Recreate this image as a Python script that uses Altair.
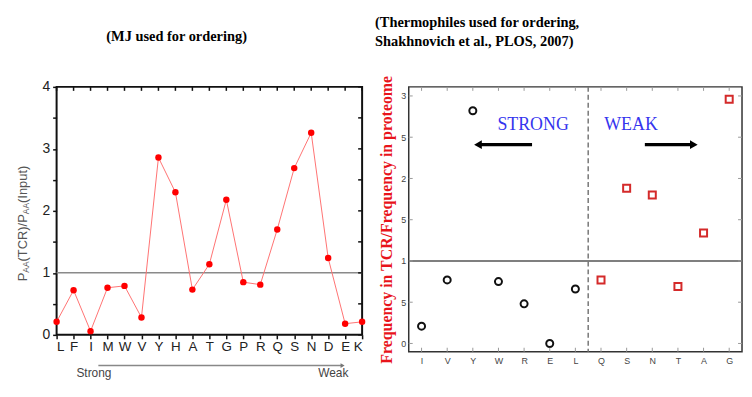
import altair as alt
import pandas as pd

# ---------------- data ----------------
mj_order = ["L", "F", "I", "M", "W", "V", "Y", "H", "A", "T", "G", "P", "R", "Q", "S", "N", "D", "E", "K"]
mj_ratio = [0.21, 0.72, 0.06, 0.76, 0.79, 0.28, 2.86, 2.30, 0.73, 1.14, 2.18, 0.85, 0.81, 1.70, 2.69, 3.26, 1.24, 0.18, 0.21]
left_y_ticks = [0, 0.5, 1, 1.5, 2, 2.5, 3, 3.5, 4]

thermo_order = ["I", "V", "Y", "W", "R", "E", "L", "Q", "S", "N", "T", "A", "G"]
thermo_ratio = [0.21, 0.77, 2.82, 0.75, 0.48, 0.00, 0.66, 0.77, 1.88, 1.80, 0.69, 1.34, 2.96]
thermo_group = ["strong"] * 7 + ["weak"] * 6
right_y_ticks = [0, 0.5, 1, 1.5, 2, 2.5, 3]
right_y_labels = ["0", "5", "1", "5", "2", "5", "3"]

left_title = ["", "(MJ used for ordering)"]
right_title = ["(Thermophiles used for ordering,", "Shakhnovich et al., PLOS, 2007)"]
right_ytitle = "Frequency in TCR/Frequency in proteome"

LW, LH = 308, 250
RW, RH = 336, 267


def js_list(items):
    return "[" + ",".join("'" + str(s) + "'" for s in items) + "]"


one = pd.DataFrame({"a": [0]})

# ---------------- left panel ----------------
ldf = pd.DataFrame({"idx": list(range(len(mj_order))), "aa": mj_order, "ratio": mj_ratio})
lx_scale = alt.Scale(domain=[0, len(mj_order) - 1], nice=False, zero=False)
ly_scale = alt.Scale(domain=[0, 4], nice=False)

lx_axis = alt.Axis(values=list(range(len(mj_order))),
                   labelExpr=js_list(mj_order) + "[datum.value]",
                   title=None, grid=False, domain=False, tickSize=4, tickColor="#111",
                   tickWidth=1.5, labelFont="Liberation Sans", labelFontSize=13.5,
                   labelColor="#222", labelPadding=1, labelAngle=0)
ly_axis = alt.Axis(values=left_y_ticks,
                   labelExpr="datum.value % 1 == 0 ? format(datum.value, 'd') : ''",
                   title=None, grid=False, domain=False, tickSize=4, tickColor="#111",
                   tickWidth=1.5, labelFont="Liberation Sans", labelFontSize=14,
                   labelColor="#222", labelPadding=3)


def LX():
    return alt.X("idx:Q", scale=lx_scale, axis=lx_axis)


def LY():
    return alt.Y("ratio:Q", scale=ly_scale, axis=ly_axis)


base_l = alt.Chart(ldf).encode(x=LX(), y=LY())
l_line = base_l.mark_line(color="#ff7272", strokeWidth=1)
l_pts = base_l.mark_circle(color="#ff0000", size=42, opacity=1)
l_ref = alt.Chart(pd.DataFrame({"ratio": [1]})).mark_rule(color="#8a8a8a", strokeWidth=1.5).encode(y=LY())
l_top_ticks = alt.Chart(ldf).mark_rule(color="#111", strokeWidth=1.5).encode(
    x=LX(), y=alt.value(0), y2=alt.value(4))
l_right_ticks = alt.Chart(pd.DataFrame({"ratio": left_y_ticks})).mark_rule(color="#111", strokeWidth=1.5).encode(
    y=LY(), x=alt.value(LW - 4), x2=alt.value(LW))

# y-axis title with subscripts, drawn as rotated text pieces
ARIAL = {"P": 667, "A": 667, "(": 333, "T": 611, "C": 722, "R": 722, ")": 333, "/": 278,
         "I": 278, "n": 556, "p": 556, "u": 556, "t": 278}
pieces = [("P", 13, False), ("AA", 8.5, True), ("(TCR)/P", 13, False), ("AA", 8.5, True), ("(Input)", 13, False)]
ytitle_layers = []
ypos = 196
for txt, fs, sub in pieces:
    w = sum(ARIAL[c] for c in txt) * fs / 1000
    ytitle_layers.append(
        alt.Chart(one).mark_text(text=txt, angle=270, align="left", baseline="middle",
                                 font="Liberation Sans", fontSize=fs, color="#555").encode(
            x=alt.value(-34 + (3 if sub else 0)), y=alt.value(ypos))
    )
    ypos -= w

# Strong -> Weak annotation under the axis
sw_text = alt.Chart(pd.DataFrame({"idx": [2.2, 16.3], "t": ["Strong", "Weak"]})).mark_text(
    font="Liberation Sans", fontSize=12, color="#444", baseline="middle").encode(
    x=LX(), y=alt.value(288), text="t:N")
sw_arrow = alt.Chart(pd.DataFrame({"idx": [2.46], "idx2": [16.8]})).mark_rule(
    color="#888", strokeWidth=1.5).encode(x=LX(), x2="idx2:Q", y=alt.value(281))
sw_head = alt.Chart(pd.DataFrame({"idx": [16.85]})).mark_point(
    shape="triangle-right", filled=True, size=22, color="#777", opacity=1).encode(
    x=LX(), y=alt.value(281))

l_title = alt.Chart(one).mark_text(text=left_title, align="center", baseline="top", lineHeight=14,
                                   font="Liberation Serif", fontWeight="bold", fontSize=14.5,
                                   color="black").encode(x=alt.value(121), y=alt.value(-71))

left = alt.layer(l_ref, l_top_ticks, l_right_ticks, l_line, l_pts, sw_arrow, sw_head, sw_text,
                 l_title, *ytitle_layers).properties(
    width=LW, height=LH, view=alt.ViewBackground(stroke="#111", strokeWidth=2))

# ---------------- right panel ----------------
rdf = pd.DataFrame({"idx": list(range(len(thermo_order))), "aa": thermo_order,
                    "ratio": thermo_ratio, "grp": thermo_group})
rx_scale = alt.Scale(domain=[-0.5, len(thermo_order) - 0.5], nice=False, zero=False)
ry_scale = alt.Scale(domain=[-0.1, 3.11], nice=False, zero=False)

rx_axis = alt.Axis(values=list(range(len(thermo_order))),
                   labelExpr=js_list(thermo_order) + "[datum.value]",
                   title=None, grid=False, domain=False, ticks=False,
                   labelFont="Liberation Sans", labelFontSize=9, labelColor="#444",
                   labelPadding=5, labelAngle=0)
ry_axis = alt.Axis(values=right_y_ticks,
                   labelExpr=js_list(right_y_labels) + "[indexof(" + str(right_y_ticks) + ", datum.value)]",
                   title=right_ytitle, titleFont="Liberation Serif", titleFontWeight="bold",
                   titleFontSize=16, titleColor="#e8141b", titlePadding=6,
                   grid=False, domain=False, ticks=False,
                   labelFont="Liberation Sans", labelFontSize=9, labelColor="#444", labelPadding=3)


def RX():
    return alt.X("idx:Q", scale=rx_scale, axis=rx_axis)


def RY():
    return alt.Y("ratio:Q", scale=ry_scale, axis=ry_axis)


r_pts = alt.Chart(rdf).mark_point(filled=False, strokeWidth=2, size=50, opacity=1).encode(
    x=RX(), y=RY(),
    shape=alt.Shape("grp:N", scale=alt.Scale(domain=["strong", "weak"], range=["circle", "square"]), legend=None),
    color=alt.Color("grp:N", scale=alt.Scale(domain=["strong", "weak"], range=["#111111", "#d42a2a"]), legend=None),
)
r_ref = alt.Chart(pd.DataFrame({"ratio": [1]})).mark_rule(color="#555", strokeWidth=1.5).encode(y=RY())
r_split = alt.Chart(pd.DataFrame({"idx": [thermo_group.count("strong") - 0.5]})).mark_rule(
    color="#777", strokeWidth=1.5, strokeDash=[5, 3]).encode(x=RX())

tick_c = "#999"
r_lt = alt.Chart(pd.DataFrame({"ratio": right_y_ticks})).mark_rule(color=tick_c, strokeWidth=1).encode(
    y=RY(), x=alt.value(0), x2=alt.value(4))
r_rt = alt.Chart(pd.DataFrame({"ratio": right_y_ticks})).mark_rule(color=tick_c, strokeWidth=1).encode(
    y=RY(), x=alt.value(RW - 4), x2=alt.value(RW))
r_bt = alt.Chart(rdf).mark_rule(color=tick_c, strokeWidth=1).encode(
    x=RX(), y=alt.value(RH - 4), y2=alt.value(RH))
r_tt = alt.Chart(rdf).mark_rule(color=tick_c, strokeWidth=1).encode(
    x=RX(), y=alt.value(0), y2=alt.value(4))

r_words = alt.Chart(pd.DataFrame({"idx": [4.35, 8.17], "ratio": [2.65, 2.65], "t": ["STRONG", "WEAK"]})).mark_text(
    font="Liberation Serif", fontSize=18, color="#3535ee", baseline="middle").encode(
    x=RX(), y=RY(), text="t:N")
r_shafts = alt.Chart(pd.DataFrame({"idx": [4.31, 8.71], "idx2": [2.3, 10.55], "ratio": [2.41, 2.41]})).mark_rule(
    color="black", strokeWidth=3.5).encode(x=RX(), x2="idx2:Q", y=RY())
r_head_l = alt.Chart(pd.DataFrame({"idx": [2.2], "ratio": [2.41]})).mark_point(
    shape="triangle-left", filled=True, size=80, color="black", opacity=1).encode(x=RX(), y=RY())
r_head_r = alt.Chart(pd.DataFrame({"idx": [10.62], "ratio": [2.41]})).mark_point(
    shape="triangle-right", filled=True, size=80, color="black", opacity=1).encode(x=RX(), y=RY())

r_title = alt.Chart(one).mark_text(text=right_title, align="left", baseline="top", lineHeight=19,
                                   font="Liberation Serif", fontWeight="bold", fontSize=14.5,
                                   color="black").encode(x=alt.value(-34), y=alt.value(-71))

right = alt.layer(r_pts, r_ref, r_split, r_lt, r_rt, r_bt, r_tt, r_shafts, r_head_l, r_head_r,
                  r_words, r_title).properties(
    width=RW, height=RH, view=alt.ViewBackground(stroke="#333", strokeWidth=1.5))

chart = alt.hconcat(left, right, spacing=7).properties(
    padding={"left": 8, "top": 5, "right": 0, "bottom": 0},
    background="white",
).configure_view(stroke="#333")

chart.save("out.html", embed_options={"renderer": "svg", "actions": False})
